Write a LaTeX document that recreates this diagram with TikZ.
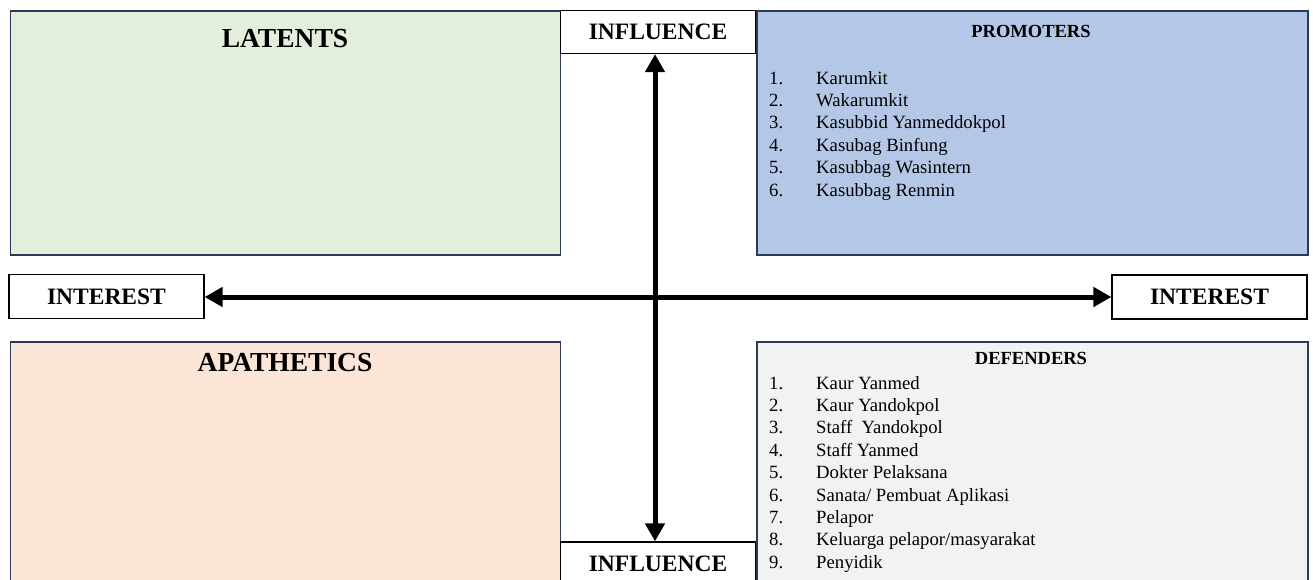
\documentclass[tikz,border=0pt]{standalone}
\usepackage{fontspec}
\setmainfont{Liberation Serif}
\definecolor{qdLatent}{HTML}{E2EFDA}
\definecolor{qdPromoter}{HTML}{B4C7E7}
\definecolor{qdApathetic}{HTML}{FBE5D6}
\definecolor{qdDefender}{HTML}{F2F2F2}
\definecolor{qdEdge}{HTML}{2B3A57}
\usepackage{tikz}
\usetikzlibrary{arrows.meta,positioning}

\begin{document}
\begin{tikzpicture}[x=1pt, y=-1pt,
  quad/.style={draw=qdEdge, line width=1.8pt, anchor=north west, inner sep=0pt},
  axisbox/.style={draw=black, line width=1.2pt, fill=white, inner sep=0pt,
    font=\fontsize{23.5}{26}\selectfont\bfseries, minimum width=195pt, minimum height=43pt},
  quadtitle/.style={font=\fontsize{27.5}{30}\selectfont\bfseries, anchor=base, inner sep=0pt},
  listtitle/.style={font=\fontsize{18.5}{20}\selectfont\bfseries, anchor=base, inner sep=0pt},
  listitem/.style={font=\fontsize{18.7}{21}\selectfont, anchor=base west, inner sep=0pt},
  axisline/.style={line width=5pt, {Triangle[length=18pt,width=19pt]}-{Triangle[length=18pt,width=19pt]}}]
  \clip (0,0) rectangle (1313,579);
  % Quadrants
  \node[quad, fill=qdLatent, minimum width=550pt, minimum height=244pt] (latents) at (9.5,10) {};
  \node[quad, fill=qdPromoter, minimum width=551pt, minimum height=244pt] (promoters) at (756,10) {};
  \node[quad, fill=qdApathetic, minimum width=550pt, minimum height=260pt] (apathetics) at (9.5,341) {};
  \node[quad, fill=qdDefender, minimum width=551pt, minimum height=260pt] (defenders) at (756,341) {};
  \node[quadtitle] (latTitle) at (285,47) {LATENTS};
  \node[quadtitle] (apaTitle) at (285,371) {APATHETICS};
  \node[listtitle] (proTitle) at (1031,37) {PROMOTERS};
  \node[listtitle] (defTitle) at (1031,364) {DEFENDERS};
  % Promoters list
  \foreach \txt [count=\i] in {Karumkit, Wakarumkit, Kasubbid Yanmeddokpol, Kasubag Binfung,
      Kasubbag Wasintern, Kasubbag Renmin} {
    \node[listitem] (pnum\i) at (769,{84+22.4*(\i-1)}) {\i.};
    \node[listitem] (pitem\i) at (816,{84+22.4*(\i-1)}) {\txt};
  }
  % Defenders list
  \foreach \txt [count=\i] in {Kaur Yanmed, Kaur Yandokpol, Staff\ \ Yandokpol, Staff Yanmed,
      Dokter Pelaksana, Sanata/ Pembuat Aplikasi, Pelapor, Keluarga pelapor/masyarakat, Penyidik} {
    \node[listitem] (dnum\i) at (769,{389+22.4*(\i-1)}) {\i.};
    \node[listitem] (ditem\i) at (816,{389+22.4*(\i-1)}) {\txt};
  }
  % Axes
  \node[axisbox] (inflTop) at (658,32) {INFLUENCE};
  \node[axisbox] (inflBot) at (658,563.5) {INFLUENCE};
  \node[axisbox, minimum height=44pt] (intLeft) at (106.5,296.5) {INTEREST};
  \node[axisbox, minimum height=44pt] (intRight) at (1209.5,297) {INTEREST};
  \coordinate (cross) at (655,297);
  \draw[axisline] (inflTop.south -| cross) -- (inflBot.north -| cross);
  \draw[axisline] (intLeft.east |- cross) -- (intRight.west |- cross);
\end{tikzpicture}
\end{document}
